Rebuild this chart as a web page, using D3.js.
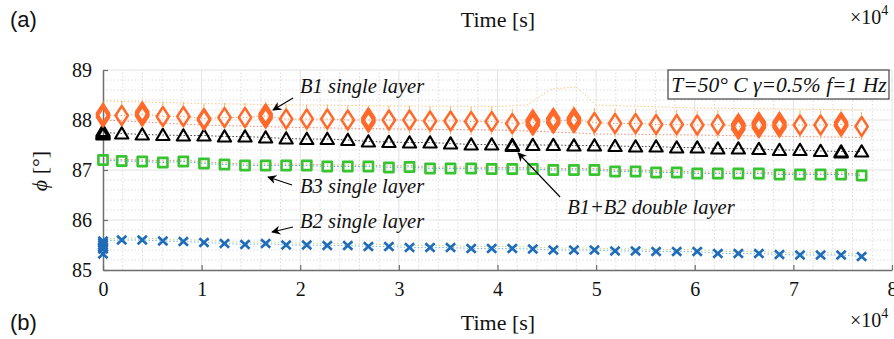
<!DOCTYPE html>
<html lang="en">
<head>
<meta charset="UTF-8">
<title>Phase angle vs time</title>
<script src="https://d3js.org/d3.v7.min.js"></script>
<style>
  body { margin: 0; padding: 0; background: #fff; }
  svg { display: block; }
  .serif { font-family: "Liberation Serif", "Times New Roman", serif; fill: #111; }
  .sans { font-family: "Liberation Sans", Arial, sans-serif; fill: #111; }
  .it { font-style: italic; }
</style>
</head>
<body>
<div id="chart"></div>
<script>
// time of each measurement [s]
const timesS = [0, 1900, 3980, 6070, 8150, 10240, 12320, 14400, 16490, 18570, 20660,
  22740, 24820, 26910, 28990, 31080, 33160, 35240, 37330, 39410, 41500,
  43580, 45660, 47750, 49830, 51920, 54000, 56080, 58170, 60250, 62340,
  64420, 66500, 68590, 70670, 72760, 74840, 76920];

// phase angle [deg]
const b1Single = [88.10, 88.09, 88.12, 88.07, 88.07, 88.03, 88.05, 88.05, 88.08, 88.02, 88.02,
  88.02, 88.00, 88.00, 88.00, 88.00, 87.98, 87.98, 87.97, 87.97, 87.93,
  87.95, 87.98, 88.00, 87.95, 87.93, 87.93, 87.91, 87.91, 87.90, 87.91,
  87.87, 87.90, 87.90, 87.90, 87.90, 87.91, 87.87];
const b1b2Double = [87.75, 87.73, 87.71, 87.70, 87.69, 87.69, 87.67, 87.67, 87.65, 87.63, 87.62,
  87.62, 87.60, 87.57, 87.56, 87.55, 87.55, 87.53, 87.51, 87.51, 87.50,
  87.50, 87.50, 87.49, 87.49, 87.48, 87.47, 87.47, 87.45, 87.45, 87.43,
  87.43, 87.42, 87.40, 87.40, 87.38, 87.37, 87.37];
const b3Single = [87.20, 87.18, 87.17, 87.15, 87.17, 87.13, 87.11, 87.09, 87.09, 87.09, 87.09,
  87.07, 87.07, 87.07, 87.05, 87.06, 87.03, 87.03, 87.03, 87.02, 87.02,
  87.02, 87.00, 87.00, 87.00, 86.97, 86.97, 86.95, 86.95, 86.93, 86.93,
  86.93, 86.93, 86.91, 86.91, 86.91, 86.91, 86.89];
const b2Single = [85.58, 85.60, 85.60, 85.58, 85.57, 85.55, 85.53, 85.51, 85.53, 85.50, 85.50,
  85.49, 85.49, 85.47, 85.47, 85.45, 85.45, 85.45, 85.43, 85.43, 85.43,
  85.42, 85.40, 85.40, 85.40, 85.38, 85.38, 85.37, 85.37, 85.37, 85.33,
  85.33, 85.33, 85.31, 85.30, 85.30, 85.30, 85.27];

// repeated readings that overlap the main markers
const b1RepT = [0, 0, 3980, 3980, 10240, 16490, 16490, 26910, 26910, 43580, 43580, 43580,
  45660, 45660, 47750, 47750, 47750, 64420, 64420, 64420, 66500, 66500, 66500,
  68590, 68590, 74840, 74840];
const b1RepV = [88.13, 88.06, 88.16, 88.08, 88.00, 88.12, 88.04, 88.04, 87.96, 88.00, 87.90, 87.97,
  88.03, 87.94, 88.04, 87.95, 88.00, 87.92, 87.82, 87.89, 87.95, 87.85, 87.92,
  87.95, 87.86, 87.95, 87.88];
const b1b2RepT = [0, 0, 0, 41500, 74840];
const b1b2RepV = [87.71, 87.78, 87.73, 87.48, 87.35];
const b2RepT = [0, 0, 0, 0, 0];
const b2RepV = [85.54, 85.50, 85.46, 85.42, 85.32];

// extra dotted traces
const traceT = [0, 10000, 20000, 30000, 40000, 43000, 45500, 48000, 50000, 60000, 70000, 77000];
const orangeUpper = [88.38, 88.33, 88.30, 88.28, 88.27, 88.30, 88.62, 88.66, 88.30, 88.24, 88.22, 88.20];
const redLower = [88.00, 87.90, 87.85, 87.82, 87.80, 87.78, 87.76, 87.74, 87.72, 87.70, 87.67, 87.65];

const xTicks = [0, 10000, 20000, 30000, 40000, 50000, 60000, 70000, 80000];
const yTicks = [85, 86, 87, 88, 89];

const W = 894, H = 339;
const SERIF = '"Liberation Serif", "Times New Roman", serif';
const svg = d3.select("#chart").append("svg").attr("width", W).attr("height", H);

const x = d3.scaleLinear().domain([0, 80000]).range([103, 892]);
const y = d3.scaleLinear().domain([85, 89]).range([270, 70]);

// grid
const grid = svg.append("g");
const minorX = d3.range(0, 80001, 2000).filter(v => v % 10000 !== 0);
const minorY = d3.range(85, 89.001, 0.2).filter(v => Math.abs(v - Math.round(v)) > 1e-6);
grid.selectAll(".mx").data(minorX).enter().append("line")
  .attr("x1", d => x(d)).attr("x2", d => x(d)).attr("y1", y(85)).attr("y2", y(89))
  .attr("stroke", "#d4d4d4").attr("stroke-width", 0.8).attr("stroke-dasharray", "1.5,2");
grid.selectAll(".my").data(minorY).enter().append("line")
  .attr("x1", x(0)).attr("x2", x(80000)).attr("y1", d => y(d)).attr("y2", d => y(d))
  .attr("stroke", "#d4d4d4").attr("stroke-width", 0.8).attr("stroke-dasharray", "1.5,2");
grid.selectAll(".gx").data(xTicks.slice(1)).enter().append("line")
  .attr("x1", d => x(d)).attr("x2", d => x(d)).attr("y1", y(85)).attr("y2", y(89))
  .attr("stroke", "#e2e2e2").attr("stroke-width", 1);
grid.selectAll(".gy").data(yTicks.slice(1)).enter().append("line")
  .attr("x1", x(0)).attr("x2", x(80000)).attr("y1", d => y(d)).attr("y2", d => y(d))
  .attr("stroke", "#e2e2e2").attr("stroke-width", 1);

// dotted traces
const line = d3.line().x(d => x(d[0])).y(d => y(d[1]));
const zip = (t, v) => t.map((tt, i) => [tt, v[i]]);
function trace(t, v, color) {
  svg.append("path").attr("d", line(zip(t, v))).attr("fill", "none")
    .attr("stroke", color).attr("stroke-width", 1).attr("stroke-dasharray", "1.5,2");
}
trace(traceT, orangeUpper, "#f9c98a");
trace(traceT, redLower, "#ee8a74");
trace(timesS, b1Single, "#f7a070");
trace(timesS, b1b2Double, "#444");
trace(timesS, b3Single, "#6aa6e4");
trace(timesS, b3Single.map(v => v + 0.03), "#f09080");
trace(timesS, b2Single, "#7ab8ea");
trace(timesS, b2Single.map(v => v + 0.04), "#c2d884");

// axes
const xAxis = svg.append("g").attr("transform", `translate(0,${y(85)})`)
  .call(d3.axisBottom(x).tickValues(xTicks).tickSizeInner(-5).tickSizeOuter(0).tickPadding(12)
    .tickFormat(d => d / 10000));
const yAxis = svg.append("g").attr("transform", `translate(${x(0)},0)`)
  .call(d3.axisLeft(y).tickValues(yTicks).tickSizeInner(-5).tickSizeOuter(0).tickPadding(11)
    .tickFormat(d3.format("d")));
[xAxis, yAxis].forEach(a => {
  a.attr("font-family", SERIF).attr("font-size", 20);
  a.select(".domain").attr("stroke", "#6e6e6e").attr("stroke-width", 1.5);
  a.selectAll(".tick line").attr("stroke", "#6e6e6e").attr("stroke-width", 1.2);
  a.selectAll("text").style("font-family", SERIF).style("font-size", "20px").attr("fill", "#111");
});
yAxis.selectAll("text").attr("dy", "0.34em");

// markers
const diamond = "M0,-9.5L6.2,0L0,9.5L-6.2,0Z";
const tri = "M0,-6.2L6.6,5L-6.6,5Z";
const cross = "M-4.6,-4.2L4.6,4.2M-4.6,4.2L4.6,-4.2";

function markers(t, v, path, color, sw) {
  svg.append("g").selectAll("path").data(zip(t, v)).enter().append("path")
    .attr("d", path).attr("transform", d => `translate(${x(d[0])},${y(d[1])})`)
    .attr("fill", "none").attr("stroke", color).attr("stroke-width", sw)
    .attr("stroke-linejoin", "round");
}
// small error spikes on B1, drawn outside the diamonds
const spikes = svg.append("g").attr("stroke", "#f7a84a").attr("stroke-width", 0.9);
zip(timesS, b1Single).forEach(d => {
  spikes.append("line").attr("x1", x(d[0])).attr("x2", x(d[0]))
    .attr("y1", y(d[1] + 0.29)).attr("y2", y(d[1]) - 10);
  spikes.append("line").attr("x1", x(d[0])).attr("x2", x(d[0]))
    .attr("y1", y(d[1]) + 10).attr("y2", y(d[1] - 0.27));
});

markers(b2RepT, b2RepV, cross, "#1f6cb8", 2.6);
markers(timesS, b2Single, cross, "#1f6cb8", 2.6);
markers(timesS, b3Single, "M-4.6,-4.6H4.6V4.6H-4.6Z", "#38c431", 2.6);
markers(b1b2RepT, b1b2RepV, tri, "#000", 2.2);
markers(timesS, b1b2Double, tri, "#000", 2.2);
markers(b1RepT, b1RepV, diamond, "#ff6a2a", 2.4);
markers(timesS, b1Single, diamond, "#ff6a2a", 2.4);

// annotations: [label, textT, textV, tailT, tailV, tipT, tipV]
const notes = [
  ["B1 single layer", 19980, 88.54, 19270, 88.44, 17240, 88.20],
  ["B3 single layer", 19980, 86.54, 19170, 86.70, 16730, 86.86],
  ["B2 single layer", 19980, 85.84, 19270, 85.86, 17140, 85.76],
  ["B1+B2 double layer", 47060, 86.12, 46350, 86.46, 42090, 87.34]
];
svg.append("defs").append("marker").attr("id", "ah").attr("viewBox", "0 0 10 10")
  .attr("refX", 9).attr("refY", 5).attr("markerWidth", 9).attr("markerHeight", 9)
  .attr("markerUnits", "userSpaceOnUse").attr("orient", "auto")
  .append("path").attr("d", "M0,0L10,5L0,10L3,5Z").attr("fill", "#000");
notes.forEach(n => {
  svg.append("line").attr("x1", x(n[3])).attr("y1", y(n[4])).attr("x2", x(n[5])).attr("y2", y(n[6]))
    .attr("stroke", "#000").attr("stroke-width", 1.1).attr("marker-end", "url(#ah)");
  svg.append("text").attr("class", "serif it").attr("x", x(n[1])).attr("y", y(n[2]))
    .style("font-size", "20.5px").text(n[0]);
});

// condition box
svg.append("rect").attr("x", 668).attr("y", 70).attr("width", 221).attr("height", 29)
  .attr("fill", "#fff").attr("stroke", "#444").attr("stroke-width", 1.2);
svg.append("text").attr("class", "serif it").attr("x", 779).attr("y", 92)
  .attr("text-anchor", "middle").style("font-size", "21.5px").text("T=50° C γ=0.5% f=1 Hz");

// titles and labels
svg.append("text").attr("class", "sans").attr("x", 10).attr("y", 27).style("font-size", "22px").text("(a)");
svg.append("text").attr("class", "sans").attr("x", 10).attr("y", 330).style("font-size", "22px").text("(b)");
[27, 330].forEach(yy => {
  svg.append("text").attr("class", "serif").attr("x", 498).attr("y", yy)
    .attr("text-anchor", "middle").style("font-size", "22px").text("Time [s]");
  const e = svg.append("text").attr("class", "serif").attr("x", 850).attr("y", yy - 3)
    .style("font-size", "20px");
  e.append("tspan").text("×10");
  e.append("tspan").attr("dy", -9).style("font-size", "14px").text("4");
});
const yl = svg.append("text").attr("class", "serif")
  .attr("transform", `translate(47,171) rotate(-90)`).attr("text-anchor", "middle")
  .style("font-size", "22px");
yl.append("tspan").attr("class", "it").text("ϕ");
yl.append("tspan").text(" [°]");
</script>
</body>
</html>
